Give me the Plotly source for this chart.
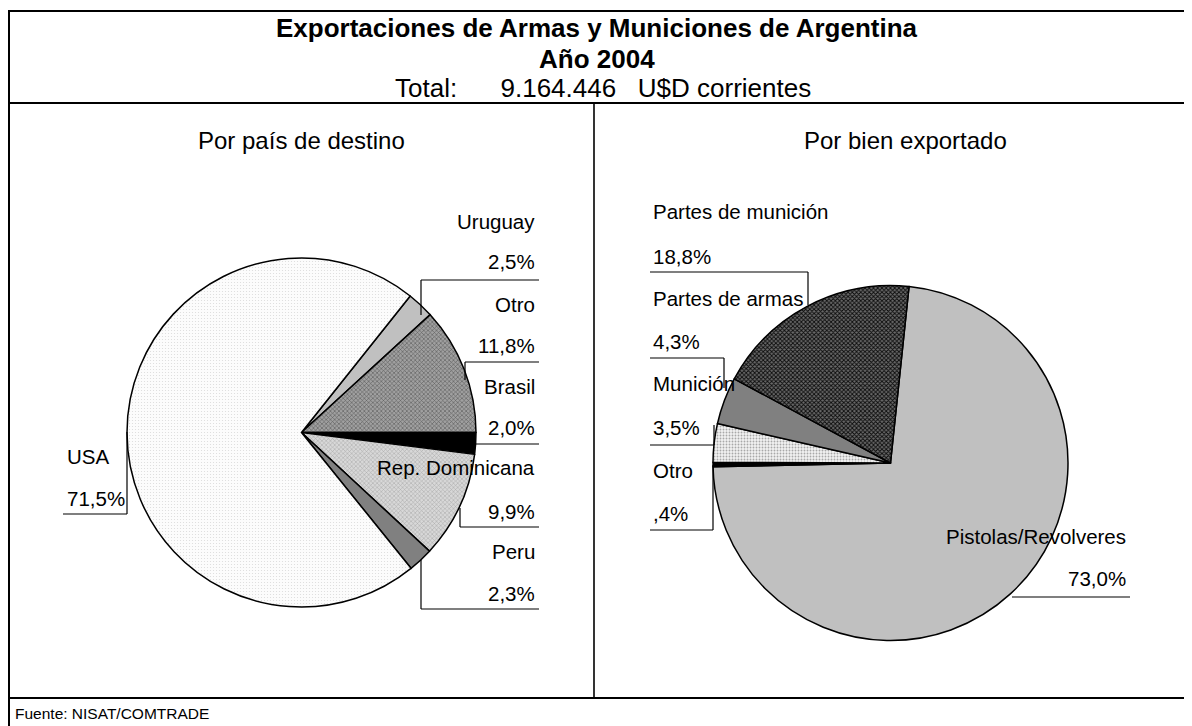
import plotly.graph_objects as go

W, H = 1192, 726

# ---------------- data ----------------
pais_labels = ["Uruguay", "Otro", "Brasil", "Rep. Dominicana", "Peru", "USA"]
pais_values = [2.5, 11.8, 2.0, 9.9, 2.3, 71.5]

bien_labels = ["Pistolas/Revolveres", "Otro", "Munición", "Partes de armas", "Partes de munición"]
bien_values = [73.0, 0.4, 3.5, 4.3, 18.8]

title_lines = ["Exportaciones de Armas y Municiones de Argentina", "Año 2004"]
total_text = "Total:      9.164.446   U$D corrientes"
subtitles = ["Por país de destino", "Por bien exportado"]
source_text = "Fuente: NISAT/COMTRADE"


def pct(v):
    s = f"{v:.1f}".replace(".", ",")
    if s.startswith("0,"):
        s = s[1:]
    return s + "%"


# page offset: the page body has an 8px margin
OFF = 8


def px(x):
    return (x - OFF) / W


def py(y):
    return 1 - (y - OFF) / H


FONT = "Liberation Sans, Arial, sans-serif"

# pie geometry (page pixels)
L_CX, L_CY, L_R = 301.5, 432.5, 174.5
R_CX, R_CY, R_R = 890.5, 463.0, 177.5

pais_colors = ["#c0c0c0", "#8e8e8e", "#000000", "#cacaca", "#808080", "#f6f6f6"]
pais_pattern = dict(
    shape=["", "x", "", "x", "", "."],
    fgcolor=["#c0c0c0", "#5a5a5a", "#000000", "#a4a4a4", "#808080", "#dadada"],
    bgcolor=["#c0c0c0", "#a0a0a0", "#000000", "#d8d8d8", "#808080", "#fcfcfc"],
    size=[3, 3, 3, 3, 3, 3],
    solidity=[0.3, 0.35, 0.3, 0.3, 0.3, 0.12],
    fillmode="replace",
)
bien_colors = ["#c0c0c0", "#000000", "#e4e4e4", "#808080", "#3c3c3c"]
bien_pattern = dict(
    shape=["", "", ".", "", "x"],
    fgcolor=["#c0c0c0", "#000000", "#a8a8a8", "#808080", "#0a0a0a"],
    bgcolor=["#c0c0c0", "#000000", "#f2f2f2", "#808080", "#6a6a6a"],
    size=[3, 3, 3, 3, 3],
    solidity=[0.3, 0.3, 0.3, 0.3, 0.5],
    fillmode="replace",
)

fig = go.Figure()

fig.add_trace(go.Pie(
    labels=pais_labels, values=pais_values, sort=False, direction="clockwise",
    rotation=90 - (pais_values[0] + pais_values[1]) * 3.6,
    textinfo="none", showlegend=False, hoverinfo="label+percent",
    marker=dict(colors=pais_colors, pattern=pais_pattern,
                line=dict(color="#000000", width=1.5)),
    domain=dict(x=[px(L_CX - L_R), px(L_CX + L_R)], y=[py(L_CY + L_R), py(L_CY - L_R)]),
))

fig.add_trace(go.Pie(
    labels=bien_labels, values=bien_values, sort=False, direction="clockwise",
    rotation=6,
    textinfo="none", showlegend=False, hoverinfo="label+percent",
    marker=dict(colors=bien_colors, pattern=bien_pattern,
                line=dict(color="#000000", width=1.5)),
    domain=dict(x=[px(R_CX - R_R), px(R_CX + R_R)], y=[py(R_CY + R_R), py(R_CY - R_R)]),
))

shapes = []


def line(x0, y0, x1, y1, w=1.2):
    shapes.append(dict(type="line", xref="paper", yref="paper",
                       x0=px(x0), y0=py(y0), x1=px(x1), y1=py(y1),
                       line=dict(color="#000000", width=w)))


# frame
line(9, 11, 1200, 11, 2.2)
line(9, 103, 1200, 103, 2.2)
line(9, 698, 1200, 698, 2.2)
line(9, 10, 9, 734, 2.0)
line(594, 103, 594, 698, 1.6)

# leader lines, left pie
line(421, 280, 539, 280); line(421, 280, 421, 315)
line(465, 362, 539, 362); line(465, 362, 465, 380)
line(475, 444, 539, 444)
line(460, 527, 539, 527); line(460, 508, 460, 527)
line(421, 609, 539, 609); line(421, 560, 421, 609)
line(63, 514, 127, 514); line(127, 432, 127, 514)
# leader lines, right pie
line(650, 272, 808, 272); line(808, 272, 808, 305)
line(650, 358, 724, 358); line(724, 358, 724, 388)
line(650, 445, 714, 445); line(714, 425, 714, 445)
line(650, 530, 713, 530); line(713, 465, 713, 530)
line(1012, 597, 1130, 597)

annotations = []


def text(x, y, s, size=20, anchor="center", bold=False):
    annotations.append(dict(
        xref="paper", yref="paper", x=px(x), y=py(y), text=f"<b>{s}</b>" if bold else s,
        showarrow=False, xanchor=anchor, yanchor="middle",
        font=dict(family=FONT, size=size, color="#000000")))


text(597, 28, title_lines[0], 26, bold=True)
text(597, 59, title_lines[1], 26, bold=True)
text(603, 88, total_text, 26)
text(301, 140, subtitles[0], 24)
text(905, 140, subtitles[1], 24)
text(13, 713, source_text, 15.5, anchor="left")

# left pie labels
left_pos = {"Uruguay": (221.7, 261.7), "Otro": (304, 345), "Brasil": (386.7, 427.3),
            "Rep. Dominicana": (467.3, 511.7), "Peru": (551.7, 593.3)}
for lab, val in zip(pais_labels, pais_values):
    if lab in left_pos:
        y1, y2 = left_pos[lab]
        text(537, y1, lab, 20.5, anchor="right")
        text(537, y2, pct(val), 20.5, anchor="right")
    else:
        text(65, 456, lab, 20.5, anchor="left")
        text(65, 498, pct(val), 20.5, anchor="left")

right_pos = {"Partes de munición": (211.7, 256), "Partes de armas": (298.3, 341.7),
             "Munición": (383.3, 427.3), "Otro": (470, 513.3)}
for lab, val in zip(bien_labels, bien_values):
    if lab in right_pos:
        y1, y2 = right_pos[lab]
        text(651, y1, lab, 20.5, anchor="left")
        text(651, y2, pct(val), 20.5, anchor="left")
    else:
        text(1128, 536, lab, 20.5, anchor="right")
        text(1128, 578, pct(val), 20.5, anchor="right")

fig.update_layout(
    width=W, height=H, margin=dict(l=0, r=0, t=0, b=0),
    paper_bgcolor="#ffffff", plot_bgcolor="#ffffff",
    shapes=shapes, annotations=annotations,
    font=dict(family=FONT),
)

fig.write_html("out.html")
